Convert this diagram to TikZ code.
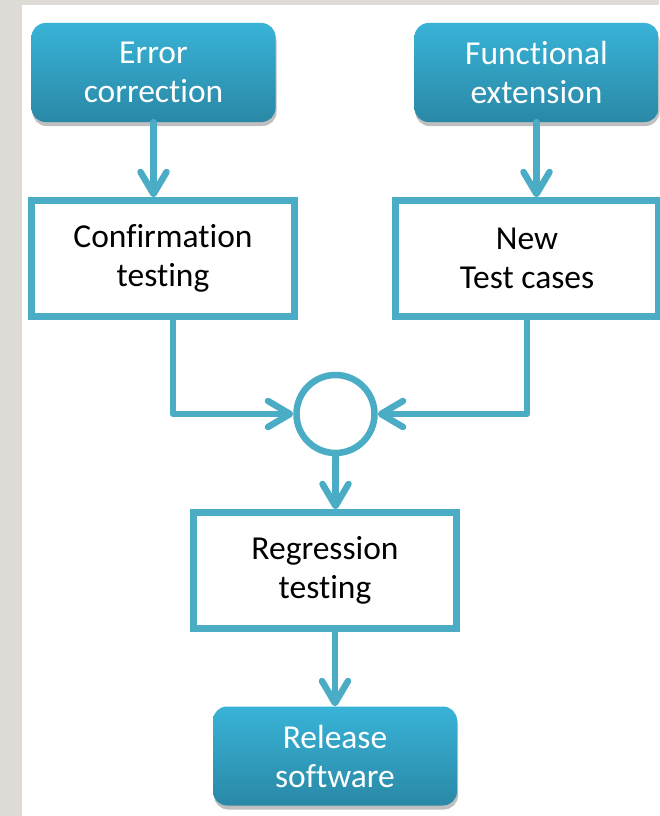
\documentclass[tikz,border=0pt]{standalone}
\usepackage{fontspec}
\setmainfont{Carlito}[Ligatures={NoCommon,NoContextual}, RawFeature={-liga;-clig;-dlig}]
\usetikzlibrary{arrows.meta,shadows}
\definecolor{linec}{HTML}{4BACC6}
\definecolor{topc}{HTML}{38B3D7}
\definecolor{botc}{HTML}{2A88A6}
\definecolor{bgray}{HTML}{DEDBD6}
\begin{document}
\begin{tikzpicture}[x=1pt,y=-1pt,
  boxfont/.style={font=\fontsize{33.5}{39}\selectfont},
  bluebox/.style={rounded corners=14pt, top color=topc, bottom color=botc, draw=none,
    text=white, boxfont, align=center,
    minimum width=244pt, minimum height=99pt, inner sep=0pt,
    drop shadow={shadow xshift=1pt, shadow yshift=-4pt, opacity=0.25, fill=black}},
  whitebox/.style={draw=linec, line width=6.5pt, fill=white, text=black,
    boxfont, align=center,
    minimum width=263pt, minimum height=116pt, inner sep=0pt},
  joincirc/.style={circle, draw=linec, line width=6.5pt, fill=white, minimum size=78pt, inner sep=0pt},
  arr/.style={draw=linec, line width=6.5pt, line cap=round, line join=round,
    -{Straight Barb[length=22pt, width=26pt, round]}}
]
\fill[bgray] (0,0) rectangle (659,816);
\fill[white] (22,5) rectangle (659,816);
\useasboundingbox (0,0) rectangle (659,816);

\node[bluebox] (err) at (153.5,72.5) {Error\\correction};
\node[bluebox] (func) at (536.5,72.5) {Functional\\extension};
\node[whitebox] (conf) at (163,258.5) {Confirmation\\testing};
\node[whitebox] (newtc) at (527,258.5) {New\\Test cases};
\node[joincirc] (circ) at (335.5,414) {};
\node[whitebox] (reg) at (325,570.5) {Regression\\testing};
\node[bluebox] (rel) at (335,756) {Release\\software};

\draw[arr] (err.south) -- (err.south |- conf.north);
\draw[arr] (func.south) -- (func.south |- newtc.north);
\draw[arr] ([xshift=10pt]conf.south) |- (circ.west);
\draw[arr] (newtc.south) |- (circ.east);
\draw[arr] (circ.south) -- (circ.south |- reg.north);
\draw[arr] (rel.north |- reg.south) -- (rel.north);
\end{tikzpicture}
\end{document}
